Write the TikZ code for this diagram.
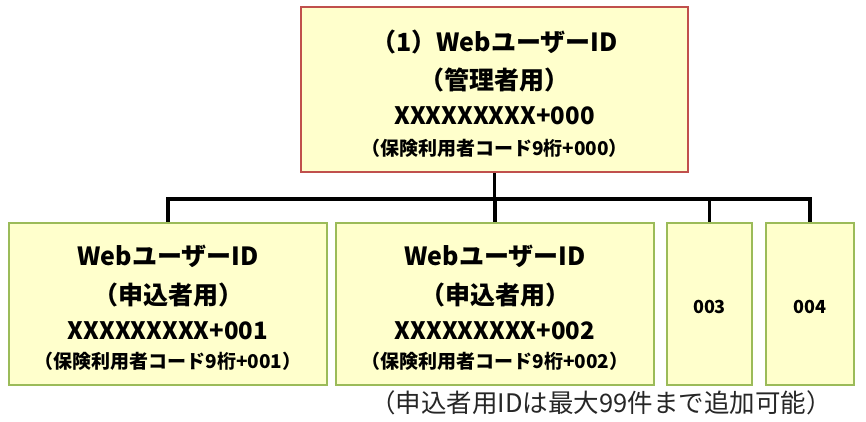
\documentclass[tikz,border=0pt]{standalone}
\usepackage{fontspec}
\setmainfont{Noto Sans CJK JP}
\definecolor{boxfill}{RGB}{255,255,204}
\definecolor{redline}{RGB}{192,80,77}
\definecolor{greenline}{RGB}{155,187,89}
\begin{document}
\begin{tikzpicture}[x=1pt,y=-1pt,
  topbox/.style={draw=redline,fill=boxfill,line width=2.5pt,minimum width=387pt,minimum height=165pt,inner sep=0pt},
  subbox/.style={draw=greenline,fill=boxfill,line width=2.5pt,minimum height=162pt,inner sep=0pt},
  big/.style={font=\fontsize{25}{28}\selectfont\bfseries,inner sep=0pt},
  mid/.style={font=\fontsize{24}{27}\selectfont\bfseries,inner sep=0pt},
  small/.style={font=\fontsize{19}{21}\selectfont\bfseries,inner sep=0pt},
  tiny/.style={font=\fontsize{18}{20}\selectfont\bfseries,inner sep=0pt},
  link/.style={line width=3.5pt,line join=miter}]
\useasboundingbox (0,0) rectangle (866,421);
\node[topbox] (top) at (494.5,89.5) {};
\node[subbox,minimum width=318pt] (b1) at (168,304) {};
\node[subbox,minimum width=318pt] (b2) at (495,304) {};
\node[subbox,minimum width=85pt] (b3) at (709.5,304) {};
\node[subbox,minimum width=88pt] (b4) at (810,304) {};
% top texts
\node[big] (t1) at (494.5,42) {（1）WebユーザーID};
\node[big] (t2) at (494.5,80) {（管理者用）};
\node[mid] (t3) at (494.5,116) {XXXXXXXXX+000};
\node[small] (t4) at (494.5,148) {（保険利用者コード9桁+000）};
% box 1
\node[big] (a1) at (168,256) {WebユーザーID};
\node[big] (a2) at (168,295) {（申込者用）};
\node[mid] (a3) at (168,331) {XXXXXXXXX+001};
\node[small] (a4) at (168,361) {（保険利用者コード9桁+001）};
% box 2
\node[big] (c1) at (495,256) {WebユーザーID};
\node[big] (c2) at (495,295) {（申込者用）};
\node[mid] (c3) at (495,331) {XXXXXXXXX+002};
\node[small] (c4) at (495,361) {（保険利用者コード9桁+002）};
% boxes 3,4
\node[tiny] (d3) at (709.5,307) {003};
\node[tiny] (d4) at (810,307) {004};
% note
\node[font=\fontsize{25.5}{28}\selectfont,inner sep=0pt,text=black!85] (note) at (601,403) {（申込者用IDは最大99件まで追加可能）};
% connectors
\coordinate (bus) at (494.5,199);
\draw[link] (top.south) -- (bus);
\draw[link] (b1.north) -- (b1.north |- bus) -- (b4.north |- bus) -- (b4.north);
\draw[link] (b2.north) -- (b2.north |- bus);
\draw[link] (b3.north) -- (b3.north |- bus);
\end{tikzpicture}
\end{document}
